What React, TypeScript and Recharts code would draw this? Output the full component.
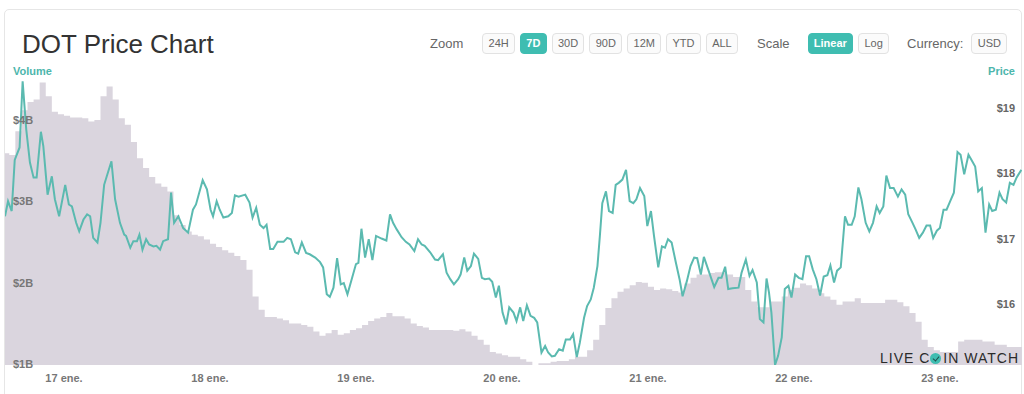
import React from 'react';
import { Area, ComposedChart, Line, XAxis, YAxis } from 'recharts';

// hours are counted from 17 ene. 00:00
const volumeStartHour = -10;
const volumeBillions = [
  3.6, 3.58, 3.87, 4.13, 4.23, 4.26, 4.47, 4.3, 4.11, 4.08,
  4.06, 4.04, 4.04, 4.03, 3.99, 4.01, 4.3, 4.42, 4.26, 4.03,
  3.95, 3.74, 3.54, 3.42, 3.31, 3.23, 3.19, 3.13, 2.84, 2.72,
  2.64, 2.6, 2.58, 2.54, 2.49, 2.45, 2.41, 2.38, 2.34, 2.29,
  2.17, 1.84, 1.68, 1.59, 1.59, 1.57, 1.55, 1.51, 1.51, 1.49,
  1.47, 1.41, 1.36, 1.39, 1.43, 1.37, 1.39, 1.43, 1.45, 1.49,
  1.54, 1.57, 1.59, 1.64, 1.6, 1.6, 1.57, 1.51, 1.48, 1.46,
  1.43, 1.43, 1.43, 1.43, 1.42, 1.44, 1.41, 1.36, 1.31, 1.25,
  1.16, 1.14, 1.12, 1.1, 1.1, 1.07, 1.04, 1.0, 1.02, 1.02,
  1.04, 1.05, 1.05, 1.07, 1.1, 1.1, 1.18, 1.31, 1.49, 1.7,
  1.82, 1.9, 1.94, 1.98, 2.02, 2.01, 1.96, 1.92, 1.94, 1.93,
  1.91, 1.89, 2.0, 2.07, 2.11, 2.11, 2.13, 2.14, 2.14, 2.11,
  2.08, 2.08, 1.92, 1.78, 1.71, 1.71, 1.78, 1.78, 1.84, 1.92,
  1.95, 2.0, 1.98, 1.94, 1.88, 1.84, 1.8, 1.74, 1.78, 1.78,
  1.82, 1.76, 1.76, 1.76, 1.76, 1.8, 1.8, 1.77, 1.72, 1.64,
  1.53, 1.31, 1.22, 1.18, 1.16, 1.16, 1.16, 1.29, 1.31, 1.31,
  1.31, 1.29, 1.29, 1.25, 1.25, 1.22, 1.22, 1.22, 1.22,
];

const priceHours = [
  -9.7, -9.2, -8.6, -8.1, -7.3, -6.8, -6.2, -5.6, -5.0, -4.5,
  -3.8, -3.4, -2.7, -2.0, -1.5, -0.8, 0.2, 0.8, 1.3, 2.0,
  2.5, 3.2, 3.8, 4.3, 4.8, 5.5, 6.0, 6.6, 7.3, 7.8,
  8.4, 9.2, 9.9, 10.2, 10.9, 11.4, 12.0, 12.4, 12.9, 13.5,
  14.0, 14.7, 15.2, 15.8, 16.3, 17.1, 17.6, 18.1, 18.8, 19.6,
  20.4, 21.2, 21.7, 22.8, 23.5, 24.1, 24.5, 25.1, 25.6, 26.2,
  27.0, 27.6, 28.1, 28.7, 29.8, 30.5, 31.0, 31.6, 32.2, 32.8,
  33.3, 33.9, 34.4, 35.1, 36.1, 36.7, 37.3, 38.0, 38.5, 39.1,
  39.8, 40.4, 41.3, 42.1, 42.6, 43.2, 43.7, 44.3, 44.9, 45.5,
  46.0, 46.6, 47.3, 48.0, 48.4, 48.9, 49.5, 50.1, 50.7, 51.3,
  52.2, 53.0, 53.6, 54.1, 54.7, 55.5, 56.2, 56.8, 57.6, 58.2,
  58.8, 59.3, 60.2, 61.0, 61.5, 62.3, 62.9, 63.5, 64.1, 64.8,
  65.2, 65.8, 66.3, 66.9, 67.4, 68.1, 68.7, 69.2, 69.9, 70.4,
  71.0, 71.5, 72.1, 72.7, 73.2, 73.9, 74.4, 75.0, 75.5, 76.1,
  76.7, 77.3, 77.8, 78.5, 79.1, 79.6, 80.2, 80.7, 81.4, 82.0,
  82.5, 83.2, 83.7, 84.3, 84.8, 85.5, 86.0, 86.6, 87.1, 87.7,
  88.1, 88.5, 89.1, 89.6, 90.2, 90.7, 91.2, 91.8, 92.4, 93.0,
  93.6, 94.1, 94.7, 95.4, 95.9, 96.5, 97.0, 97.7, 98.3, 98.8,
  99.3, 99.9, 100.6, 101.2, 101.7, 102.4, 103.0, 103.6, 104.1, 104.7,
  105.2, 105.9, 106.9, 107.6, 108.1, 108.7, 109.2, 109.9, 110.9, 111.4,
  112.1, 112.7, 113.2, 113.9, 114.4, 115.0, 115.5, 115.9, 116.3, 116.9,
  117.4, 118.0, 118.5, 119.1, 119.6, 120.2, 120.8, 121.4, 122.0, 122.5,
  123.1, 123.7, 124.3, 124.9, 125.5, 126.0, 126.6, 127.1, 127.7, 128.4,
  128.9, 129.5, 130.0, 130.6, 131.1, 131.8, 132.4, 133.0, 133.6, 134.1,
  134.7, 135.2, 135.8, 136.4, 137.1, 137.7, 138.3, 138.8, 139.5, 140.0,
  140.6, 141.2, 141.8, 142.4, 142.9, 143.5, 144.0, 144.6, 145.1, 145.7,
  146.3, 146.9, 147.4, 148.0, 148.7, 149.2, 149.8, 150.3, 150.9, 151.5,
  152.1, 152.6, 153.2, 153.8, 154.3, 154.9, 155.5, 156.1, 156.6, 157.4,
];

const priceUsd = [
  17.34, 17.57, 17.42, 18.2, 18.39, 19.4, 18.66, 18.16, 17.93, 17.93,
  18.63, 18.41, 17.67, 17.95, 17.6, 17.34, 17.82, 17.52, 17.49, 17.24,
  17.11, 17.29, 17.37, 17.34, 17.01, 16.94, 17.24, 17.82, 18.03, 18.18,
  17.6, 17.24, 17.06, 17.04, 16.86, 16.96, 16.96, 17.06, 16.83, 16.99,
  16.91, 16.88, 16.89, 16.83, 16.96, 16.99, 17.7, 17.24, 17.34, 17.16,
  17.09, 17.44, 17.52, 17.89, 17.75, 17.44, 17.34, 17.57, 17.44, 17.32,
  17.34, 17.39, 17.66, 17.64, 17.67, 17.55, 17.32, 17.47, 17.21, 17.16,
  17.21, 16.84, 16.84, 16.95, 16.95, 17.01, 16.99, 16.79, 16.77, 16.94,
  16.78, 16.76, 16.71, 16.64, 16.56, 16.15, 16.11, 16.25, 16.7, 16.3,
  16.32, 16.15, 16.38, 16.61, 16.63, 17.15, 16.71, 16.99, 16.67, 17.04,
  17.0, 16.97, 17.37, 17.24, 17.14, 17.02, 16.95, 16.91, 16.81, 16.99,
  16.91, 16.89, 16.79, 16.68, 16.67, 16.76, 16.48, 16.38, 16.3, 16.38,
  16.45, 16.71, 16.51, 16.58, 16.77, 16.69, 16.4, 16.38, 16.39, 16.34,
  16.1, 16.28, 15.87, 15.69, 15.95, 15.87, 15.74, 15.95, 15.74, 15.98,
  15.82, 15.79, 15.72, 15.26, 15.36, 15.26, 15.2, 15.21, 15.31, 15.29,
  15.46, 15.46, 15.54, 15.19, 15.41, 15.79, 15.97, 16.07, 16.25, 16.58,
  17.04, 17.54, 17.72, 17.42, 17.39, 17.82, 17.85, 17.9, 18.05, 17.57,
  17.54, 17.6, 17.77, 17.65, 17.19, 17.42, 17.04, 16.56, 16.88, 16.86,
  16.99, 16.94, 16.63, 16.38, 16.12, 16.35, 16.58, 16.71, 16.7, 16.45,
  16.72, 16.53, 16.26, 16.4, 16.4, 16.57, 16.23, 16.24, 16.25, 16.48,
  16.68, 16.43, 16.52, 16.33, 15.77, 15.72, 16.39, 16.18, 15.87, 15.07,
  15.21, 15.49, 16.23, 16.28, 16.1, 16.45, 16.4, 16.38, 16.73, 16.73,
  16.53, 16.38, 16.13, 16.42, 16.44, 16.59, 16.33, 16.51, 16.56, 17.34,
  17.21, 17.21, 17.34, 17.78, 17.6, 17.24, 17.11, 17.24, 17.49, 17.39,
  17.49, 17.96, 17.77, 17.77, 17.64, 17.75, 17.67, 17.37, 17.24, 17.14,
  17.01, 17.09, 17.2, 17.2, 17.01, 17.12, 17.16, 17.44, 17.44, 17.57,
  17.7, 18.32, 18.28, 17.98, 18.28, 18.2, 18.1, 17.72, 17.77, 17.09,
  17.52, 17.42, 17.44, 17.7, 17.6, 17.55, 17.85, 17.82, 17.93, 18.05,
];

const dayTicks = [0, 24, 48, 72, 96, 120, 144];
const dayLabels = ['17 ene.', '18 ene.', '19 ene.', '20 ene.', '21 ene.', '22 ene.', '23 ene.'];
const volumeTicks = [1, 2, 3, 4];
const priceTicks = [16, 17, 18, 19];
const zoomOptions = ['24H', '7D', '30D', '90D', '12M', 'YTD', 'ALL'];
const scaleOptions = ['Linear', 'Log'];

const font = '"Liberation Sans", Arial, Helvetica, sans-serif';
const teal = '#3fbdb1';

const volumeData = volumeBillions.map((v, i) => ({ t: volumeStartHour + i, volume: v }));
const priceData = priceHours.map((t, i) => ({ t, price: priceUsd[i] }));

function Btn({ label, active, gap }: { label: string; active?: boolean; gap: number }) {
  return (
    <div
      style={{
        height: 21,
        boxSizing: 'border-box',
        padding: '0 5.3px',
        marginRight: gap,
        borderRadius: 4,
        border: active ? `1px solid ${teal}` : '1px solid #e2e2e2',
        background: active ? teal : '#fbfbfb',
        color: active ? '#fff' : '#666',
        fontWeight: active ? 700 : 400,
        fontSize: 11,
        lineHeight: '19px',
      }}
    >
      {label}
    </div>
  );
}

export default function App() {
  return (
    <div style={{ position: 'relative', width: 1024, height: 394, overflow: 'hidden', background: '#fff', fontFamily: font }}>
      <style>{'body{margin:0}'}</style>
      <div
        style={{
          position: 'absolute',
          left: 4,
          top: 9,
          width: 1018,
          height: 420,
          boxSizing: 'border-box',
          border: '1px solid #e6e6e6',
          borderRadius: 5,
        }}
      />
      <div style={{ position: 'absolute', left: 22, top: 31, fontSize: 26, lineHeight: '26px', color: '#333' }}>DOT Price Chart</div>

      <div style={{ position: 'absolute', left: 430, top: 33, height: 21, display: 'flex', alignItems: 'center' }}>
        <span style={{ fontSize: 13, color: '#666', marginRight: 19 }}>Zoom</span>
        {zoomOptions.map((z, i) => (
          <Btn key={z} label={z} active={z === '7D'} gap={i === zoomOptions.length - 1 ? 19 : 5} />
        ))}
        <span style={{ fontSize: 13, color: '#666', marginRight: 18 }}>Scale</span>
        {scaleOptions.map((s, i) => (
          <Btn key={s} label={s} active={s === 'Linear'} gap={i === scaleOptions.length - 1 ? 18 : 5} />
        ))}
        <span style={{ fontSize: 13, color: '#666', marginRight: 8 }}>Currency:</span>
        <Btn label="USD" gap={0} />
      </div>

      <div style={{ position: 'absolute', left: 13, top: 65, fontSize: 11, lineHeight: '12px', fontWeight: 700, color: '#4db6ac' }}>Volume</div>
      <div style={{ position: 'absolute', right: 9, top: 65, fontSize: 11, lineHeight: '12px', fontWeight: 700, color: '#4db6ac' }}>Price</div>

      <div style={{ position: 'absolute', left: 0, top: 0 }}>
        <ComposedChart width={1024} height={394} margin={{ top: 80, right: 2, bottom: 0, left: 5 }}>
          <XAxis
            dataKey="t"
            type="number"
            domain={[-9.7, 157.5]}
            allowDataOverflow
            ticks={dayTicks}
            height={29}
            axisLine={false}
            tickLine={false}
            tick={(p: any) => (
              <text x={p.x} y={p.y + 9} textAnchor="middle" fontSize={11} fontWeight={700} fill="#777" fontFamily={font}>
                {dayLabels[dayTicks.indexOf(p.payload.value)]}
              </text>
            )}
          />
          <YAxis
            yAxisId="vol"
            orientation="left"
            mirror
            width={40}
            domain={[1, 4.5]}
            allowDataOverflow
            ticks={volumeTicks}
            axisLine={false}
            tickLine={false}
            tick={(p: any) => (
              <text x={13} y={p.y + 3} fontSize={11} fontWeight={700} fill="#777" fontFamily={font}>
                {`$${p.payload.value}B`}
              </text>
            )}
          />
          <YAxis
            yAxisId="price"
            orientation="right"
            mirror
            width={40}
            domain={[15.07, 19.42]}
            allowDataOverflow
            ticks={priceTicks}
            axisLine={false}
            tickLine={false}
            tick={(p: any) => (
              <text x={1015} y={p.y + 4} textAnchor="end" fontSize={11} fontWeight={700} fill="#666" fontFamily={font}>
                {`$${p.payload.value}`}
              </text>
            )}
          />
          <Area
            yAxisId="vol"
            data={volumeData}
            dataKey="volume"
            type="stepAfter"
            stroke="none"
            fill="#dad5de"
            fillOpacity={1}
            isAnimationActive={false}
          />
          <Line
            yAxisId="price"
            data={priceData}
            dataKey="price"
            type="linear"
            stroke="#5bbab0"
            strokeWidth={2}
            dot={false}
            isAnimationActive={false}
          />
        </ComposedChart>
      </div>

      <div
        style={{
          position: 'absolute',
          left: 880,
          top: 350,
          fontSize: 14,
          lineHeight: '16px',
          letterSpacing: 1,
          color: '#2b2b2b',
          display: 'flex',
          alignItems: 'center',
        }}
      >
        <span>LIVE C</span>
        <span
          style={{
            position: 'relative',
            display: 'inline-block',
            width: 11,
            height: 11,
            borderRadius: '50%',
            background: teal,
            margin: '0 2px 0 0',
          }}
        >
          <span
            style={{
              position: 'absolute',
              left: 4,
              top: 2,
              width: 3,
              height: 5,
              borderRight: '1.5px solid #1f4f4a',
              borderBottom: '1.5px solid #1f4f4a',
              transform: 'rotate(40deg)',
            }}
          />
        </span>
        <span>IN WATCH</span>
      </div>
    </div>
  );
}
